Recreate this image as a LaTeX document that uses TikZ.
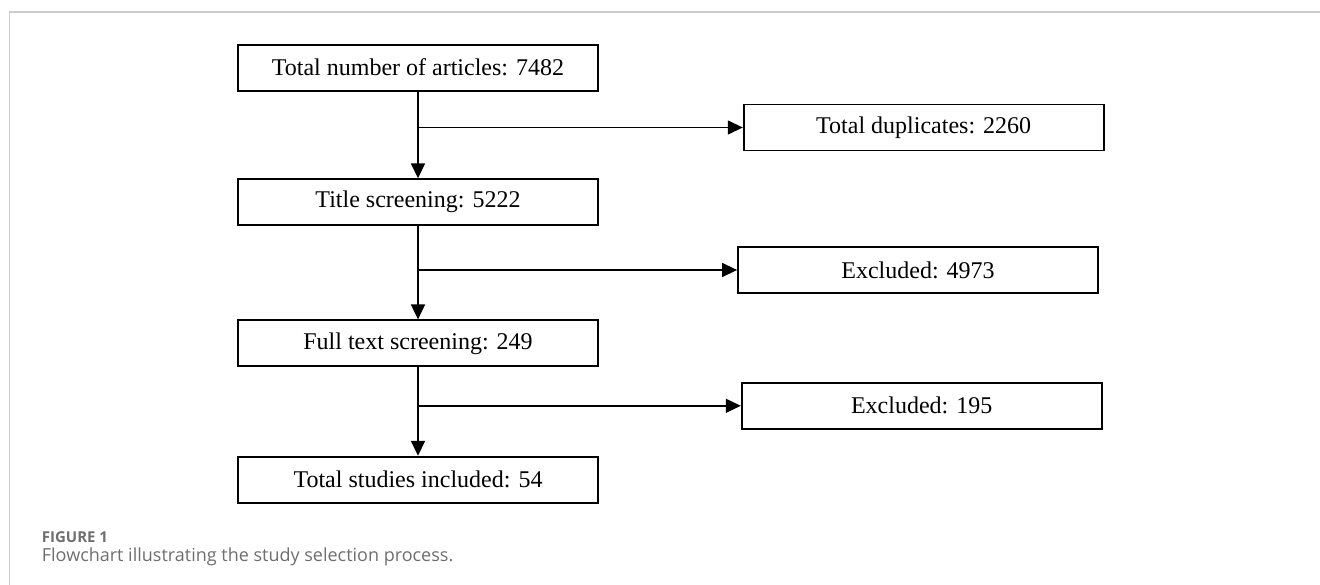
\documentclass[tikz,border=0pt]{standalone}
\usepackage{fontspec}
\setmainfont{Liberation Serif}
\newfontfamily\capfont{Open Sans}
\usetikzlibrary{positioning,calc,arrows.meta}
\definecolor{framegray}{HTML}{CCCCCC}
\definecolor{capgray}{HTML}{6E6E6E}
\tikzset{>={Triangle[length=15pt,width=14pt]}}
\tikzset{
  stage/.style={draw,line width=1.8pt,minimum width=360pt,minimum height=46pt,
    inner sep=0pt,font=\fontsize{24}{28}\selectfont},
  flow/.style={->,line width=1.8pt},
  side/.style={->,line width=1.4pt},
}

\begin{document}
\begin{tikzpicture}[x=1pt,y=-1pt]
\useasboundingbox (0,0) rectangle (1320,585);
\draw[framegray,line width=1.3pt] (9.5,585) -- (9.5,12) -- (1320,12);
% main column
\node[stage] (total) at (418,67.7) {Total number of articles: 7482};
\node[stage] (title) at (418,202.2) {Title screening: 5222};
\node[stage] (full) at (418,343.3) {Full text screening: 249};
\node[stage] (incl) at (418,479.7) {Total studies included: 54};
% side boxes
\node[stage] (dup) at (923.7,127.5) {Total duplicates: 2260};
\node[stage] (exa) at (918,270) {Excluded: 4973};
\node[stage] (exb) at (921.7,405.8) {Excluded: 195};
\draw[flow] (total) -- (title);
\draw[flow] (title) -- (full);
\draw[flow] (full) -- (incl);
\coordinate (ja) at (total.south |- dup.west);
\coordinate (jb) at (title.south |- exa.west);
\coordinate (jc) at (full.south |- exb.west);
\draw[side] (ja) -- (dup.west);
\draw[side] (jb) -- (exa.west);
\draw[side] (jc) -- (exb.west);
% caption
\node[anchor=base west,inner sep=0pt,text=capgray,font=\capfont\bfseries\fontsize{15}{18}\selectfont] (fig) at (41.7,542.7) {FIGURE 1};
\node[anchor=base west,inner sep=0pt,text=capgray,font=\capfont\fontsize{18}{21}\selectfont] (cap) at (41.7,561.7) {Flowchart illustrating the study selection process.};
\end{tikzpicture}
\end{document}
